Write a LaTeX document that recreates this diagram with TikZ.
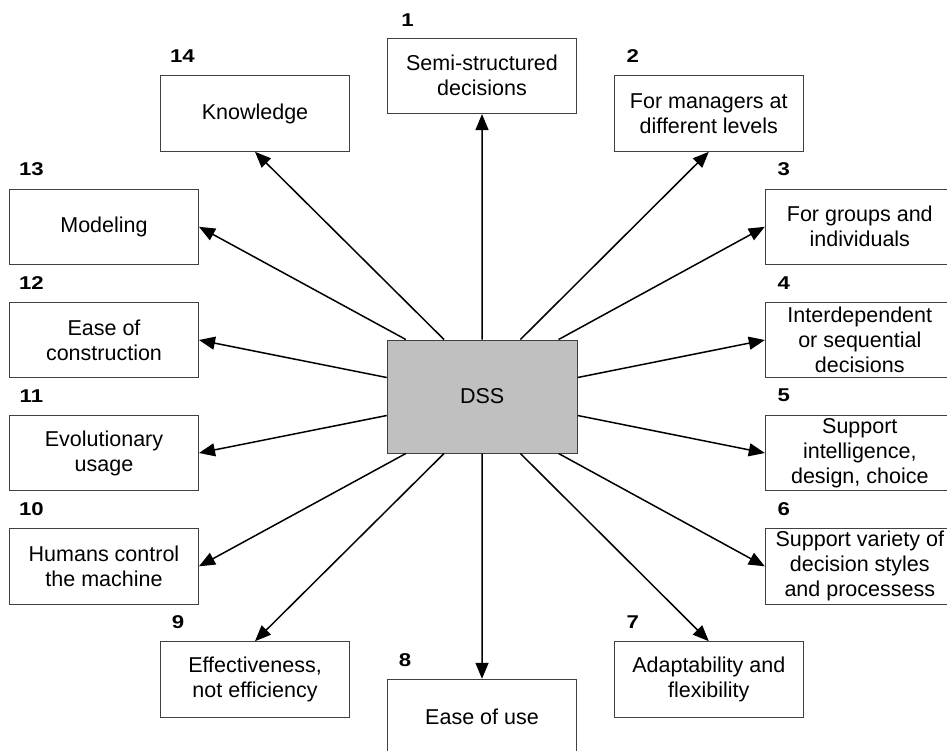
\documentclass[tikz,border=0pt]{standalone}
\usepackage{fontspec}
\setmainfont{Liberation Sans}
\newfontfamily\numfont[FakeStretch=1.2]{Liberation Sans}
\usetikzlibrary{arrows.meta,calc}
\definecolor{dssgray}{HTML}{C0C0C0}
\begin{document}
\begin{tikzpicture}[x=1pt,y=-1pt,
  item/.style={draw=black!75,line width=1pt,fill=white,minimum width=189pt,minimum height=75.6pt,
    inner sep=0pt,align=center,font=\fontsize{21.5}{25}\selectfont},
  core/.style={item,fill=dssgray,minimum width=190pt,minimum height=113pt},
  num/.style={inner sep=0pt,font=\numfont\fontsize{18.5}{20}\selectfont\bfseries},
  link/.style={line width=1.5pt,-{Triangle[length=16pt,width=13pt]}}]
\useasboundingbox (0,0) rectangle (947,750);
\clip (0,0) rectangle (947,750);

% centre
\node[core] (dss) at (482.2,396.5) {DSS};

% surrounding characteristics
\node[item] (b1)  at (482,75.8)    {Semi-structured\\decisions};
\node[item] (b2)  at (708.8,113.5) {For managers at\\different levels};
\node[item] (b3)  at (859.8,226.8) {For groups and\\individuals};
\node[item] (b4)  at (859.8,340)   {Interdependent\\or sequential\\decisions};
\node[item] (b5)  at (859.8,453)   {Support\\intelligence,\\design, choice};
\node[item] (b6)  at (859.8,566.3) {Support variety of\\decision styles\\and processess};
\node[item] (b7)  at (708.8,679.5) {Adaptability and\\flexibility};
\node[item] (b8)  at (482,717.1)   {Ease of use};
\node[item] (b9)  at (255,679.5)   {Effectiveness,\\not efficiency};
\node[item] (b10) at (104,566.3)   {Humans control\\the machine};
\node[item] (b11) at (104,453)     {Evolutionary\\usage};
\node[item] (b12) at (104,340)     {Ease of\\construction};
\node[item] (b13) at (104,226.8)   {Modeling};
\node[item] (b14) at (255,113.5)   {Knowledge};

% numbers above the boxes
\node[num] (n1)  at ($(b1.north west)+(20.5,-17.5)$)  {1};
\node[num] (n2)  at ($(b2.north west)+(19,-19)$)  {2};
\node[num] (n3)  at ($(b3.north west)+(19,-19)$)  {3};
\node[num] (n4)  at ($(b4.north west)+(19,-19)$)  {4};
\node[num] (n5)  at ($(b5.north west)+(19,-19)$)  {5};
\node[num] (n6)  at ($(b6.north west)+(19,-19)$)  {6};
\node[num] (n7)  at ($(b7.north west)+(19,-19)$)  {7};
\node[num] (n8)  at ($(b8.north west)+(18,-19)$)  {8};
\node[num] (n9)  at ($(b9.north west)+(18,-19)$)  {9};
\node[num] (n10) at ($(b10.north west)+(22.4,-19)$) {10};
\node[num] (n11) at ($(b11.north west)+(22.4,-19)$) {11};
\node[num] (n12) at ($(b12.north west)+(22.4,-19)$) {12};
\node[num] (n13) at ($(b13.north west)+(22.4,-19)$) {13};
\node[num] (n14) at ($(b14.north west)+(22.4,-19)$) {14};

% exit points on the centre box
\coordinate (t1) at ($(dss.north west)!0.1!(dss.north east)$);
\coordinate (t2) at ($(dss.north west)!0.3!(dss.north east)$);
\coordinate (t3) at ($(dss.north west)!0.5!(dss.north east)$);
\coordinate (t4) at ($(dss.north west)!0.7!(dss.north east)$);
\coordinate (t5) at ($(dss.north west)!0.9!(dss.north east)$);
\coordinate (s1) at ($(dss.south west)!0.1!(dss.south east)$);
\coordinate (s2) at ($(dss.south west)!0.3!(dss.south east)$);
\coordinate (s3) at ($(dss.south west)!0.5!(dss.south east)$);
\coordinate (s4) at ($(dss.south west)!0.7!(dss.south east)$);
\coordinate (s5) at ($(dss.south west)!0.9!(dss.south east)$);
\coordinate (l1) at ($(dss.north west)!1/3!(dss.south west)$);
\coordinate (l2) at ($(dss.north west)!2/3!(dss.south west)$);
\coordinate (r1) at ($(dss.north east)!1/3!(dss.south east)$);
\coordinate (r2) at ($(dss.north east)!2/3!(dss.south east)$);

% arrows
\draw[link] (t1) -- (b13.east);
\draw[link] (t2) -- (b14.south);
\draw[link] (t3) -- (b1.south);
\draw[link] (t4) -- (b2.south);
\draw[link] (t5) -- (b3.west);
\draw[link] (r1) -- (b4.west);
\draw[link] (r2) -- (b5.west);
\draw[link] (s5) -- (b6.west);
\draw[link] (s4) -- (b7.north);
\draw[link] (s3) -- (b8.north);
\draw[link] (s2) -- (b9.north);
\draw[link] (s1) -- (b10.east);
\draw[link] (l2) -- (b11.east);
\draw[link] (l1) -- (b12.east);
\end{tikzpicture}
\end{document}
